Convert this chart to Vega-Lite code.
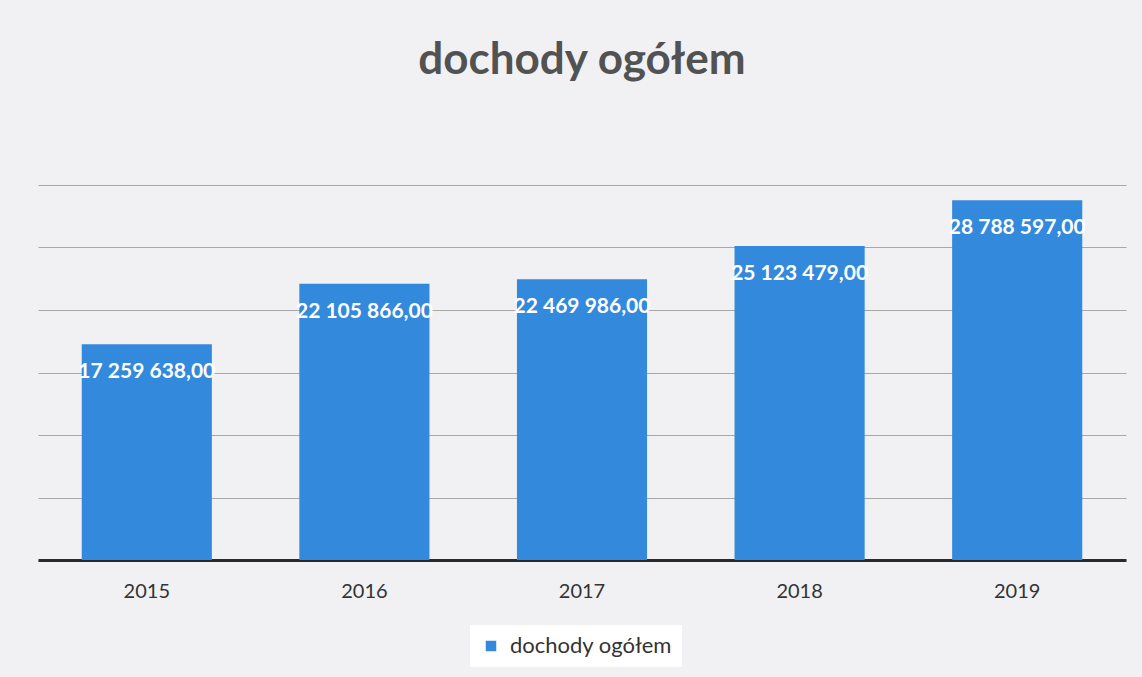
{
  "$schema": "https://vega.github.io/schema/vega-lite/v6.json",
  "width": 1088,
  "height": 375,
  "autosize": {"type": "none"},
  "padding": {"left": 38, "top": 185, "right": 16, "bottom": 117},
  "background": "#f1f1f4",
  "config": {
    "locale": {"number": {"decimal": ",", "thousands": " ", "grouping": [3], "currency": ["", ""]}},
    "view": {"stroke": null},
    "font": "Lato"
  },
  "title": {
    "text": "dochody ogółem",
    "fontSize": 44,
    "font": "Lato",
    "fontWeight": "bold",
    "color": "#525252",
    "anchor": "middle",
    "offset": 102
  },
  "data": {"values": [
    {"rok": "2015", "wartosc": 17259638.00, "seria": "dochody ogółem"},
    {"rok": "2016", "wartosc": 22105866.00, "seria": "dochody ogółem"},
    {"rok": "2017", "wartosc": 22469986.00, "seria": "dochody ogółem"},
    {"rok": "2018", "wartosc": 25123479.00, "seria": "dochody ogółem"},
    {"rok": "2019", "wartosc": 28788597.00, "seria": "dochody ogółem"}
  ]},
  "encoding": {
    "x": {
      "field": "rok", "type": "nominal", "title": null,
      "scale": {"paddingInner": 0.402, "paddingOuter": 0.201},
      "axis": {"labelAngle": 0, "labelFontSize": 20, "labelColor": "#333333", "labelFont": "Lato", "ticks": false, "domainColor": "#2a2a2a", "domainWidth": 3, "labelPadding": 21, "grid": false}
    },
    "y": {
      "field": "wartosc", "type": "quantitative", "title": null,
      "scale": {"domain": [0, 30000000], "nice": false},
      "axis": {"labels": false, "ticks": false, "domain": false, "values": [0, 5000000, 10000000, 15000000, 20000000, 25000000, 30000000], "gridColor": "#a8a8a8", "gridWidth": 1.2}
    }
  },
  "layer": [
    {
      "mark": {"type": "bar"},
      "encoding": {
        "color": {
          "field": "seria", "type": "nominal",
          "scale": {"range": ["#3389dc"]},
          "legend": {"title": null, "orient": "none", "legendX": 432, "legendY": 440, "fillColor": "#ffffff", "padding": 10, "symbolType": "square", "symbolSize": 110, "labelFontSize": 22, "labelLimit": 400, "labelFont": "Lato", "labelColor": "#333333", "symbolStrokeWidth": 0, "labelOffset": 8}
        }
      }
    },
    {
      "mark": {"type": "text", "dy": 28, "baseline": "middle", "align": "center", "color": "#ffffff", "fontSize": 21, "fontWeight": "bold", "font": "Lato"},
      "encoding": {
        "text": {"field": "wartosc", "type": "quantitative", "format": ",.2f"}
      }
    }
  ]
}
